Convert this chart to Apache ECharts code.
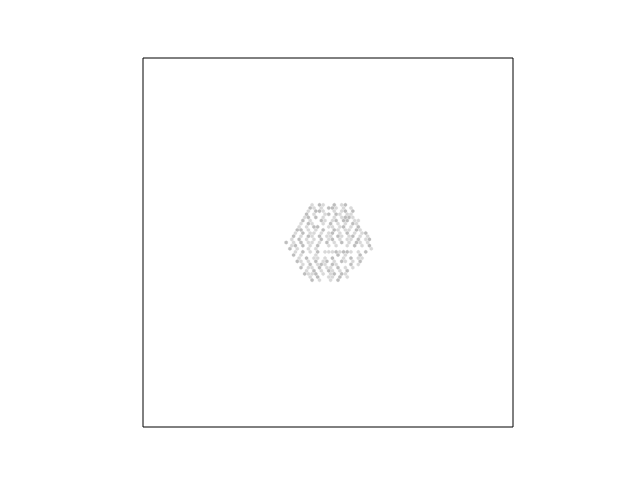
<!DOCTYPE html>
<html><head><meta charset="utf-8">
<script src="https://cdn.jsdelivr.net/npm/echarts@6/dist/echarts.min.js"></script>
<style>html,body{margin:0;padding:0;background:#fff}#c{width:640px;height:480px}</style>
</head><body><div id="c"></div>
<script>
// Hexbin counts: one string per row (top to bottom), '.' = empty, digit = count level
var hexRows = [
  ".......1.21..2.12.......",
  "......21.1.221.1.1......",
  "......1.221..1.12.2.....",
  ".....2.1..12.21.11......",
  ".....12.2.1..1.1221.....",
  "....2.1..21.12.22.11....",
  "....1.21..1.2.1.1.21....",
  "...1.1.22..11.12.1.2....",
  "...22.1.1.2..21.11.21...",
  "..1.2.11.1.12.1.2.1.12..",
  "..2.1.21.2.11.21.12.1.1.",
  ".1.2.1.1.2.12.1.11.2.12.",
  "2.1.2.11.1.2.1.2.1.21.1.",
  ".12.2.1.2..1.1..1.2.1.2.",
  ".2.1..1.1..............1",
  "..1.2.1.2.11121221.1.2..",
  "..2.1...1.....2.1...2...",
  "...1.2.11.1.2..1.2.11...",
  "...21.1.2.12.1.21.1.2...",
  "....1.2.121.21...2.1....",
  "....2.11.2.11.2.1.1.....",
  ".....1.2.1.21.1.2.......",
  ".....2112.1.12.21.......",
  "......1.2..11.2.1.......",
  ".......2.1..1.2........."
];
var colX0 = 38.7;   // x of first column (axis units)
var rowY0 = 60.2;   // y of first row (axis units)
var colStep = 1.0, rowStep = 0.85;
var levelColors = ['#ffffff', '#d9d9d9', '#bdbdbd', '#9a9a9a'];

var cells = [];
hexRows.forEach(function (row, r) {
  for (var c = 0; c < row.length; c++) {
    var ch = row[c];
    if (ch === '.') continue;
    var x = colX0 + c * colStep + (r % 2 ? colStep / 2 : 0);
    var y = rowY0 - r * rowStep;
    cells.push([x, y, +ch]);
  }
});

var chart = echarts.init(document.getElementById('c'), null, {renderer: 'canvas'});
chart.setOption({
  animation: false,
  grid: {left: 143, top: 58, width: 370, height: 369, show: true, borderColor: '#000', borderWidth: 1, backgroundColor: '#fff'},
  xAxis: {type: 'value', min: 0, max: 100, show: false},
  yAxis: {type: 'value', min: 0, max: 100, show: false},
  series: [{
    type: 'custom',
    data: cells,
    renderItem: function (params, api) {
      var cx = api.value(0), cy = api.value(1);
      var hw = colStep * 0.42, hh = rowStep * 0.58;
      var pts = [
        api.coord([cx, cy + hh]),
        api.coord([cx + hw, cy + hh / 2]),
        api.coord([cx + hw, cy - hh / 2]),
        api.coord([cx, cy - hh]),
        api.coord([cx - hw, cy - hh / 2]),
        api.coord([cx - hw, cy + hh / 2])
      ];
      var col = levelColors[api.value(2)];
      return {type: 'polygon', shape: {points: pts}, style: {fill: col, stroke: col, lineWidth: 0.3}};
    }
  }]
});
</script></body></html>
